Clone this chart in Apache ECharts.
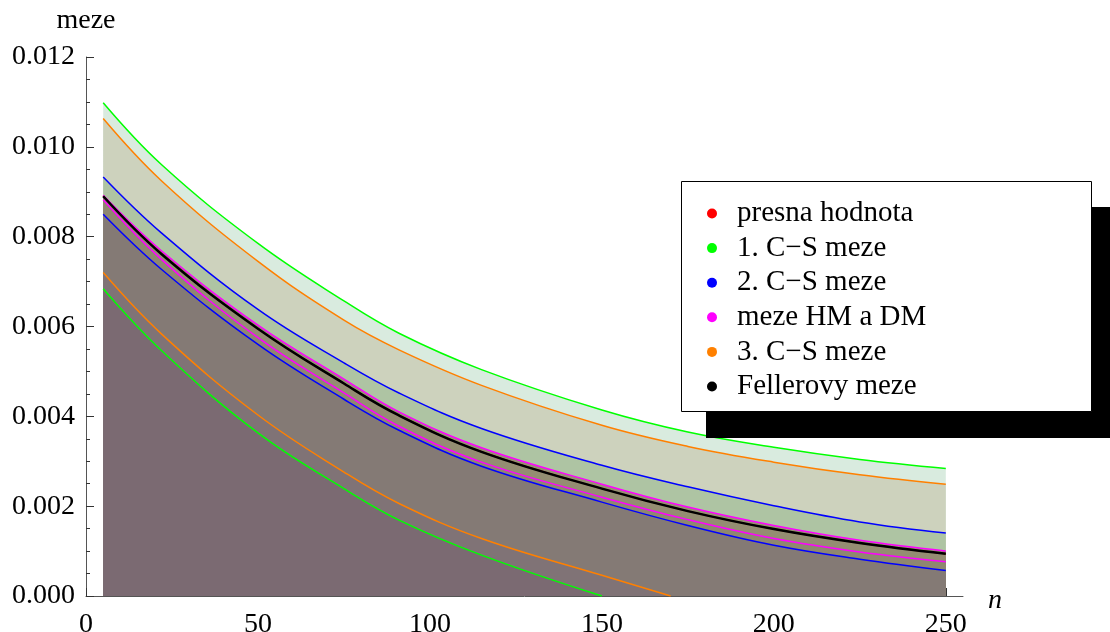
<!DOCTYPE html>
<html lang="cs">
  <head>
    <meta charset="UTF-8" />
    <title>meze</title>
    <script src="https://cdn.jsdelivr.net/npm/echarts@6.0.0/dist/echarts.min.js"></script>
    <style>
      html, body { margin: 0; padding: 0; background: #fff; }
      #main { width: 1110px; height: 632px; }
    </style>
  </head>
  <body>
    <div id="main"></div>

    <script>
      const n = [5, 22, 50, 75, 91, 115, 150, 175, 200, 225, 250];
      const n3Lower = [5, 22, 50, 75, 91, 115, 150, 170];
      const n1Lower = [5, 22, 50, 75, 91, 115, 150];

      const cs1Upper = [0.01098, 0.0096, 0.00785, 0.00657, 0.00585, 0.00504, 0.00414, 0.00365, 0.00331, 0.00304, 0.00284];
      const cs3Upper = [0.01063, 0.00924, 0.00745, 0.00614, 0.00548, 0.00469, 0.0038, 0.00333, 0.00298, 0.0027, 0.00249];
      const cs2Upper = [0.00933, 0.00808, 0.00638, 0.00519, 0.00452, 0.00373, 0.00291, 0.00243, 0.00201, 0.00165, 0.0014];
      const hmUpper = [0.00892, 0.00768, 0.00603, 0.00483, 0.0041, 0.0033, 0.00249, 0.00198, 0.00157, 0.00124, 0.001];
      const exact = [0.0089, 0.00762, 0.00595, 0.00473, 0.00402, 0.00321, 0.00239, 0.00189, 0.00149, 0.00118, 0.00094];
      const feller = [0.0089, 0.00761, 0.00595, 0.00473, 0.00402, 0.00321, 0.00239, 0.00189, 0.00149, 0.00118, 0.00094];
      const hmLower = [0.00882, 0.00749, 0.00575, 0.00452, 0.00378, 0.00298, 0.0022, 0.0017, 0.00128, 0.00098, 0.00076];
      const cs2Lower = [0.0085, 0.00727, 0.0056, 0.00438, 0.00369, 0.00289, 0.00209, 0.00157, 0.00113, 0.00082, 0.00057];
      const cs3Lower = [0.0072, 0.00583, 0.00403, 0.00276, 0.00206, 0.00128, 0.00046, 0];
      const cs1Lower = [0.00684, 0.00546, 0.00363, 0.00239, 0.00169, 0.00091, 0];

      const xMajorTicks = [0, 50, 100, 150, 200, 250];
      const xMinorTicks = [10, 20, 30, 40, 60, 70, 80, 90, 110, 120, 130, 140,
        160, 170, 180, 190, 210, 220, 230, 240];

      const legendNames = ['presna hodnota', '1. C\u2212S meze', '2. C\u2212S meze',
        'meze HM a DM', '3. C\u2212S meze', 'Fellerovy meze'];

      const FONT = 'Liberation Serif';
      const colors = {
        red: '#ff0000',
        green: '#00ff00',
        blue: '#0000ff',
        magenta: '#ff00ff',
        orange: '#ff8000',
        black: '#000000',
      };

      function pairs(xs, ys) {
        return xs.map((x, i) => [x, ys[i]]);
      }

      function curve(name, xs, ys, color, fill, width) {
        const s = {
          name: name,
          type: 'line',
          data: pairs(xs, ys),
          smooth: 0.4,
          showSymbol: false,
          silent: true,
          itemStyle: { color: color },
          lineStyle: { color: color, width: width || 1.5 },
        };
        if (fill) {
          s.areaStyle = { color: fill, opacity: 1 };
        }
        return s;
      }

      const options = {
        animation: false,
        grid: { left: 86, right: 147, top: 57, bottom: 36, outerBoundsMode: 'none' },
        xAxis: [
          {
            type: 'value',
            min: 0,
            max: 255,
            name: 'n',
            nameLocation: 'end',
            nameGap: 25,
            nameTextStyle: {
              fontFamily: FONT,
              fontSize: 28,
              fontStyle: 'italic',
              color: '#000',
              verticalAlign: 'top',
              lineHeight: 10,
            },
            splitLine: { show: false },
            axisLine: { lineStyle: { color: '#555', width: 1 } },
            axisTick: {
              inside: true,
              length: 8,
              customValues: xMajorTicks,
              lineStyle: { color: '#333' },
            },
            axisLabel: {
              customValues: xMajorTicks,
              margin: 15,
              fontFamily: FONT,
              fontSize: 28,
              color: '#000',
            },
          },
          {
            type: 'value',
            min: 0,
            max: 255,
            position: 'bottom',
            splitLine: { show: false },
            axisLine: { show: false },
            axisTick: {
              inside: true,
              length: 4,
              customValues: xMinorTicks,
              lineStyle: { color: '#333' },
            },
            axisLabel: { show: false },
          },
        ],
        yAxis: {
          type: 'value',
          min: 0,
          max: 0.012,
          interval: 0.002,
          name: 'meze',
          nameLocation: 'end',
          nameGap: 22,
          nameTextStyle: { fontFamily: FONT, fontSize: 28, color: '#000', align: 'center' },
          splitLine: { show: false },
          axisLine: { show: true, lineStyle: { color: '#555', width: 1 } },
          axisTick: { show: true, inside: true, length: 8, lineStyle: { color: '#333' } },
          minorTick: { show: true, splitNumber: 4, length: 4, lineStyle: { color: '#333' } },
          axisLabel: {
            margin: 11,
            fontFamily: FONT,
            fontSize: 28,
            color: '#000',
            formatter: (v) => v.toFixed(3),
          },
        },
        legend: {
          orient: 'vertical',
          left: 707,
          top: 199,
          padding: 0,
          z: 20,
          icon: 'circle',
          itemWidth: 40,
          itemHeight: 10,
          itemGap: 5.6,
          selectedMode: false,
          textStyle: { fontFamily: FONT, fontSize: 29, lineHeight: 28, color: '#000' },
          data: [
            { name: legendNames[0], itemStyle: { color: colors.red, borderWidth: 0 } },
            { name: legendNames[1], itemStyle: { color: colors.green, borderWidth: 0 } },
            { name: legendNames[2], itemStyle: { color: colors.blue, borderWidth: 0 } },
            { name: legendNames[3], itemStyle: { color: colors.magenta, borderWidth: 0 } },
            { name: legendNames[4], itemStyle: { color: colors.orange, borderWidth: 0 } },
            { name: legendNames[5], itemStyle: { color: colors.black, borderWidth: 0 } },
          ],
        },
        graphic: [
          {
            type: 'rect',
            z: 10,
            silent: true,
            shape: { x: 706, y: 207, width: 420, height: 231 },
            style: { fill: '#000' },
          },
          {
            type: 'rect',
            z: 11,
            silent: true,
            shape: { x: 681.5, y: 181.5, width: 410, height: 230 },
            style: { fill: '#fff', stroke: '#000', lineWidth: 1 },
          },
        ],
        series: [
          curve(legendNames[1], n, cs1Upper, colors.green, '#d9ebdf'),
          curve(legendNames[4], n, cs3Upper, colors.orange, '#cdd2bd'),
          curve(legendNames[2], n, cs2Upper, colors.blue, '#aec4a3'),
          curve(legendNames[3], n, hmUpper, colors.magenta, '#978f72'),
          curve(legendNames[0], n, exact, colors.red, null),
          curve(legendNames[5], n, feller, colors.black, '#948d72', 2.5),
          curve(legendNames[3], n, hmLower, colors.magenta, '#8f8770'),
          curve(legendNames[2], n, cs2Lower, colors.blue, '#847a75'),
          curve(legendNames[4], n3Lower, cs3Lower, colors.orange, '#807376'),
          curve(legendNames[1], n1Lower, cs1Lower, colors.green, '#7b6a72'),
        ],
      };

      var myChart = echarts.init(document.querySelector('#main'));
      myChart.setOption(options);
    </script>
  </body>
</html>
